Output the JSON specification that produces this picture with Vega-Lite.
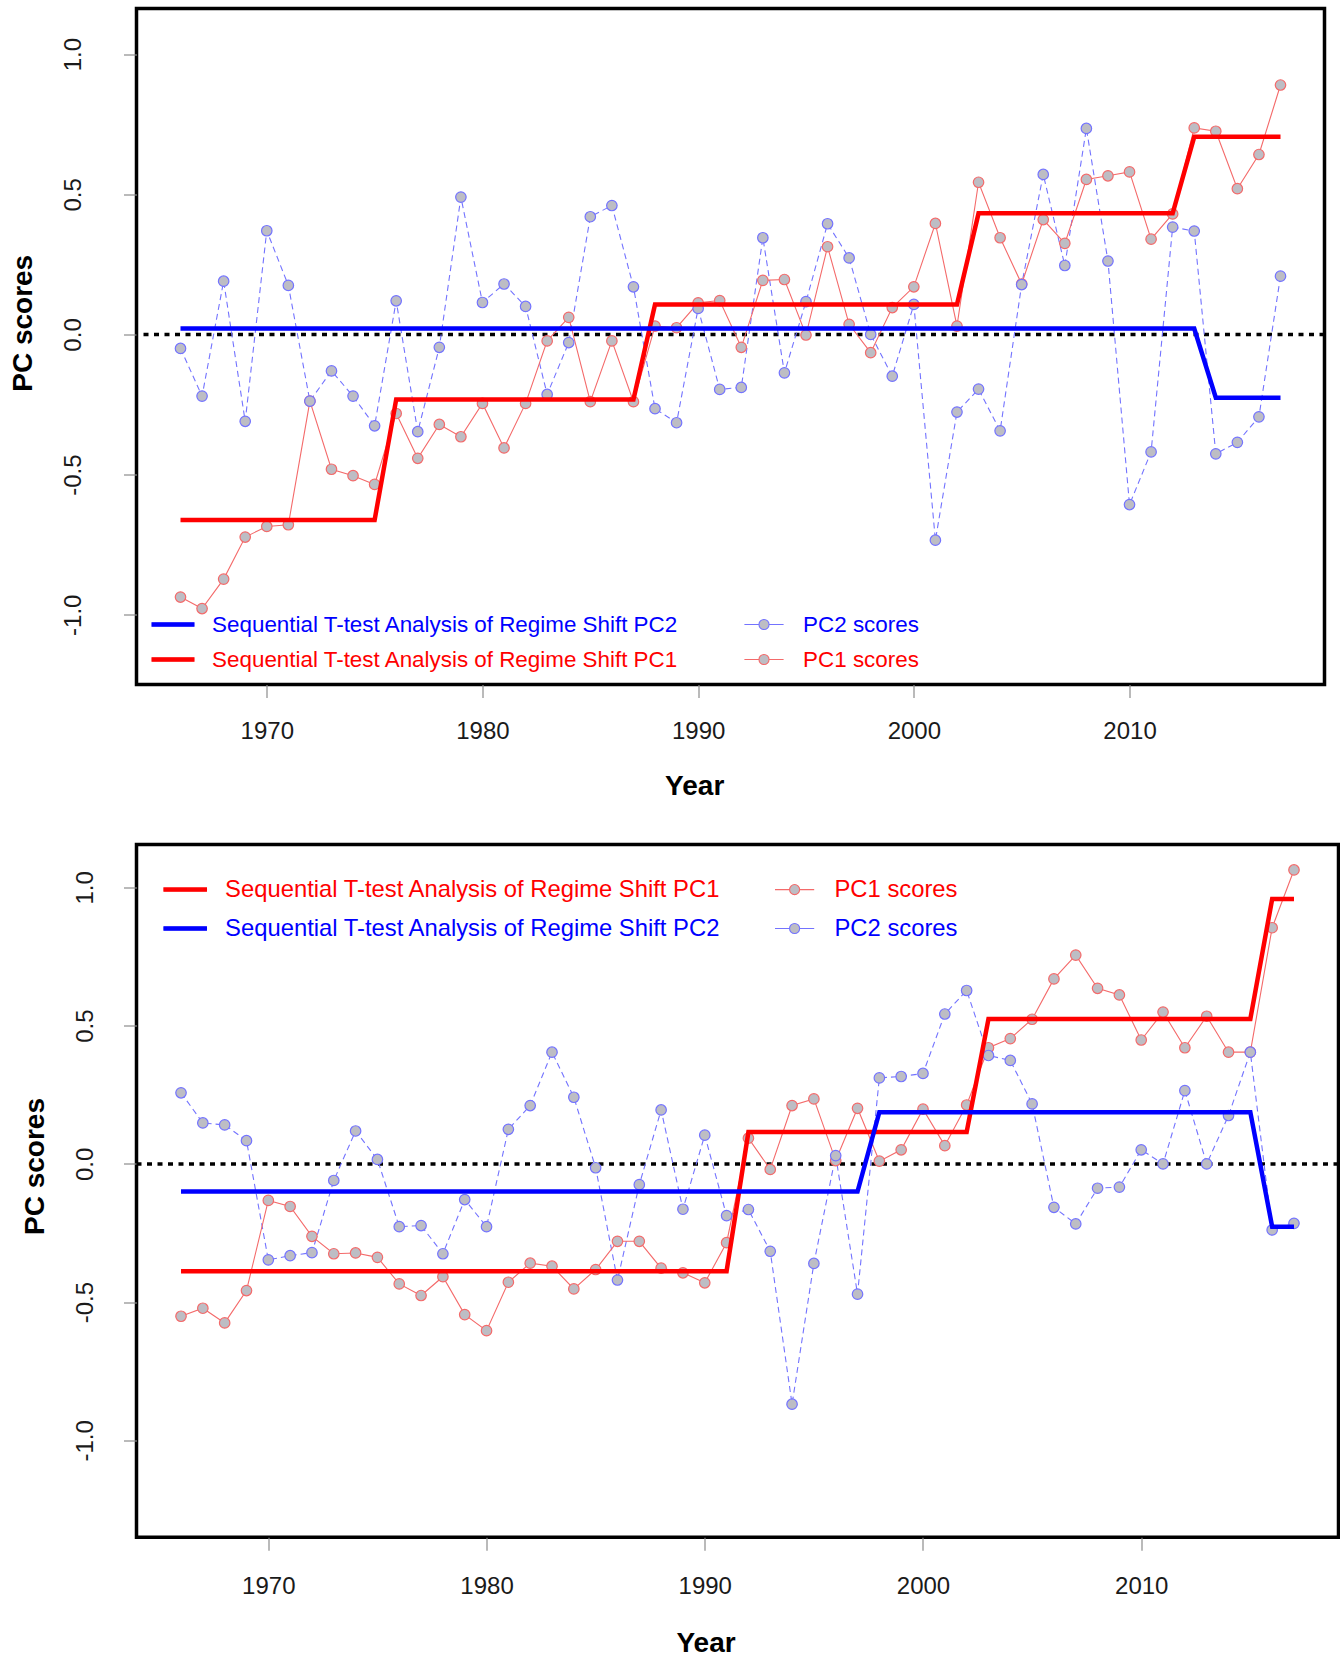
{
  "$schema": "https://vega.github.io/schema/vega-lite/v6.json",
  "padding": {"left": 6.5, "top": 6.5, "right": 0, "bottom": 0},
  "config": {
    "font": "Liberation Sans",
    "view": {"stroke": "#000000", "strokeWidth": 3.5},
    "axis": {"grid": false, "domain": false, "tickColor": "#8c8c8c", "tickWidth": 1.2, "tickSize": 13, "labelFont": "Liberation Sans", "labelFontSize": 24, "labelColor": "#1a1a1a", "titleFont": "Liberation Sans", "titleFontSize": 28, "titleFontWeight": "bold", "titleColor": "#000000", "labelFlush": false, "labelOverlap": false},
    "legend": {"labelFont": "Liberation Sans"}
  },
  "datasets": {
    "top": [
      {"year": 1966, "pc1": -0.937, "pc2": -0.05, "r1": -0.662, "r2": 0.021},
      {"year": 1967, "pc1": -0.978, "pc2": -0.22, "r1": -0.662, "r2": 0.021},
      {"year": 1968, "pc1": -0.873, "pc2": 0.19, "r1": -0.662, "r2": 0.021},
      {"year": 1969, "pc1": -0.723, "pc2": -0.31, "r1": -0.662, "r2": 0.021},
      {"year": 1970, "pc1": -0.685, "pc2": 0.37, "r1": -0.662, "r2": 0.021},
      {"year": 1971, "pc1": -0.679, "pc2": 0.175, "r1": -0.662, "r2": 0.021},
      {"year": 1972, "pc1": -0.238, "pc2": -0.238, "r1": -0.662, "r2": 0.021},
      {"year": 1973, "pc1": -0.481, "pc2": -0.13, "r1": -0.662, "r2": 0.021},
      {"year": 1974, "pc1": -0.504, "pc2": -0.22, "r1": -0.662, "r2": 0.021},
      {"year": 1975, "pc1": -0.535, "pc2": -0.326, "r1": -0.662, "r2": 0.021},
      {"year": 1976, "pc1": -0.282, "pc2": 0.12, "r1": -0.232, "r2": 0.021},
      {"year": 1977, "pc1": -0.442, "pc2": -0.347, "r1": -0.232, "r2": 0.021},
      {"year": 1978, "pc1": -0.321, "pc2": -0.046, "r1": -0.232, "r2": 0.021},
      {"year": 1979, "pc1": -0.365, "pc2": 0.49, "r1": -0.232, "r2": 0.021},
      {"year": 1980, "pc1": -0.246, "pc2": 0.114, "r1": -0.232, "r2": 0.021},
      {"year": 1981, "pc1": -0.405, "pc2": 0.18, "r1": -0.232, "r2": 0.021},
      {"year": 1982, "pc1": -0.246, "pc2": 0.10, "r1": -0.232, "r2": 0.021},
      {"year": 1983, "pc1": -0.023, "pc2": -0.214, "r1": -0.232, "r2": 0.021},
      {"year": 1984, "pc1": 0.061, "pc2": -0.029, "r1": -0.232, "r2": 0.021},
      {"year": 1985, "pc1": -0.24, "pc2": 0.42, "r1": -0.232, "r2": 0.021},
      {"year": 1986, "pc1": -0.023, "pc2": 0.46, "r1": -0.232, "r2": 0.021},
      {"year": 1987, "pc1": -0.24, "pc2": 0.17, "r1": -0.232, "r2": 0.021},
      {"year": 1988, "pc1": 0.03, "pc2": -0.265, "r1": 0.107, "r2": 0.021},
      {"year": 1989, "pc1": 0.024, "pc2": -0.315, "r1": 0.107, "r2": 0.021},
      {"year": 1990, "pc1": 0.113, "pc2": 0.093, "r1": 0.107, "r2": 0.021},
      {"year": 1991, "pc1": 0.121, "pc2": -0.196, "r1": 0.107, "r2": 0.021},
      {"year": 1992, "pc1": -0.046, "pc2": -0.189, "r1": 0.107, "r2": 0.021},
      {"year": 1993, "pc1": 0.193, "pc2": 0.345, "r1": 0.107, "r2": 0.021},
      {"year": 1994, "pc1": 0.196, "pc2": -0.137, "r1": 0.107, "r2": 0.021},
      {"year": 1995, "pc1": -0.002, "pc2": 0.117, "r1": 0.107, "r2": 0.021},
      {"year": 1996, "pc1": 0.313, "pc2": 0.395, "r1": 0.107, "r2": 0.021},
      {"year": 1997, "pc1": 0.036, "pc2": 0.273, "r1": 0.107, "r2": 0.021},
      {"year": 1998, "pc1": -0.065, "pc2": 0.0, "r1": 0.107, "r2": 0.021},
      {"year": 1999, "pc1": 0.096, "pc2": -0.149, "r1": 0.107, "r2": 0.021},
      {"year": 2000, "pc1": 0.17, "pc2": 0.107, "r1": 0.107, "r2": 0.021},
      {"year": 2001, "pc1": 0.396, "pc2": -0.734, "r1": 0.107, "r2": 0.021},
      {"year": 2002, "pc1": 0.03, "pc2": -0.277, "r1": 0.107, "r2": 0.021},
      {"year": 2003, "pc1": 0.543, "pc2": -0.195, "r1": 0.432, "r2": 0.021},
      {"year": 2004, "pc1": 0.345, "pc2": -0.344, "r1": 0.432, "r2": 0.021},
      {"year": 2005, "pc1": 0.18, "pc2": 0.178, "r1": 0.432, "r2": 0.021},
      {"year": 2006, "pc1": 0.41, "pc2": 0.571, "r1": 0.432, "r2": 0.021},
      {"year": 2007, "pc1": 0.325, "pc2": 0.246, "r1": 0.432, "r2": 0.021},
      {"year": 2008, "pc1": 0.553, "pc2": 0.735, "r1": 0.432, "r2": 0.021},
      {"year": 2009, "pc1": 0.566, "pc2": 0.262, "r1": 0.432, "r2": 0.021},
      {"year": 2010, "pc1": 0.58, "pc2": -0.607, "r1": 0.432, "r2": 0.021},
      {"year": 2011, "pc1": 0.34, "pc2": -0.419, "r1": 0.432, "r2": 0.021},
      {"year": 2012, "pc1": 0.43, "pc2": 0.383, "r1": 0.432, "r2": 0.021},
      {"year": 2013, "pc1": 0.737, "pc2": 0.369, "r1": 0.705, "r2": 0.021},
      {"year": 2014, "pc1": 0.725, "pc2": -0.426, "r1": 0.705, "r2": -0.226},
      {"year": 2015, "pc1": 0.52, "pc2": -0.385, "r1": 0.705, "r2": -0.226},
      {"year": 2016, "pc1": 0.642, "pc2": -0.294, "r1": 0.705, "r2": -0.226},
      {"year": 2017, "pc1": 0.89, "pc2": 0.208, "r1": 0.705, "r2": -0.226}
    ],
    "bottom": [
      {"year": 1966, "pc1": -0.551, "pc2": 0.257, "r1": -0.388, "r2": -0.1},
      {"year": 1967, "pc1": -0.522, "pc2": 0.148, "r1": -0.388, "r2": -0.1},
      {"year": 1968, "pc1": -0.575, "pc2": 0.141, "r1": -0.388, "r2": -0.1},
      {"year": 1969, "pc1": -0.458, "pc2": 0.084, "r1": -0.388, "r2": -0.1},
      {"year": 1970, "pc1": -0.132, "pc2": -0.347, "r1": -0.388, "r2": -0.1},
      {"year": 1971, "pc1": -0.154, "pc2": -0.332, "r1": -0.388, "r2": -0.1},
      {"year": 1972, "pc1": -0.262, "pc2": -0.321, "r1": -0.388, "r2": -0.1},
      {"year": 1973, "pc1": -0.325, "pc2": -0.06, "r1": -0.388, "r2": -0.1},
      {"year": 1974, "pc1": -0.322, "pc2": 0.119, "r1": -0.388, "r2": -0.1},
      {"year": 1975, "pc1": -0.338, "pc2": 0.016, "r1": -0.388, "r2": -0.1},
      {"year": 1976, "pc1": -0.434, "pc2": -0.227, "r1": -0.388, "r2": -0.1},
      {"year": 1977, "pc1": -0.476, "pc2": -0.223, "r1": -0.388, "r2": -0.1},
      {"year": 1978, "pc1": -0.408, "pc2": -0.325, "r1": -0.388, "r2": -0.1},
      {"year": 1979, "pc1": -0.545, "pc2": -0.129, "r1": -0.388, "r2": -0.1},
      {"year": 1980, "pc1": -0.603, "pc2": -0.227, "r1": -0.388, "r2": -0.1},
      {"year": 1981, "pc1": -0.428, "pc2": 0.125, "r1": -0.388, "r2": -0.1},
      {"year": 1982, "pc1": -0.359, "pc2": 0.211, "r1": -0.388, "r2": -0.1},
      {"year": 1983, "pc1": -0.37, "pc2": 0.404, "r1": -0.388, "r2": -0.1},
      {"year": 1984, "pc1": -0.452, "pc2": 0.241, "r1": -0.388, "r2": -0.1},
      {"year": 1985, "pc1": -0.382, "pc2": -0.014, "r1": -0.388, "r2": -0.1},
      {"year": 1986, "pc1": -0.28, "pc2": -0.42, "r1": -0.388, "r2": -0.1},
      {"year": 1987, "pc1": -0.28, "pc2": -0.075, "r1": -0.388, "r2": -0.1},
      {"year": 1988, "pc1": -0.377, "pc2": 0.195, "r1": -0.388, "r2": -0.1},
      {"year": 1989, "pc1": -0.394, "pc2": -0.164, "r1": -0.388, "r2": -0.1},
      {"year": 1990, "pc1": -0.43, "pc2": 0.104, "r1": -0.388, "r2": -0.1},
      {"year": 1991, "pc1": -0.285, "pc2": -0.187, "r1": -0.388, "r2": -0.1},
      {"year": 1992, "pc1": 0.093, "pc2": -0.165, "r1": 0.115, "r2": -0.1},
      {"year": 1993, "pc1": -0.02, "pc2": -0.316, "r1": 0.115, "r2": -0.1},
      {"year": 1994, "pc1": 0.211, "pc2": -0.869, "r1": 0.115, "r2": -0.1},
      {"year": 1995, "pc1": 0.235, "pc2": -0.36, "r1": 0.115, "r2": -0.1},
      {"year": 1996, "pc1": 0.012, "pc2": 0.03, "r1": 0.115, "r2": -0.1},
      {"year": 1997, "pc1": 0.201, "pc2": -0.471, "r1": 0.115, "r2": -0.1},
      {"year": 1998, "pc1": 0.01, "pc2": 0.311, "r1": 0.115, "r2": 0.187},
      {"year": 1999, "pc1": 0.051, "pc2": 0.316, "r1": 0.115, "r2": 0.187},
      {"year": 2000, "pc1": 0.198, "pc2": 0.327, "r1": 0.115, "r2": 0.187},
      {"year": 2001, "pc1": 0.066, "pc2": 0.542, "r1": 0.115, "r2": 0.187},
      {"year": 2002, "pc1": 0.213, "pc2": 0.627, "r1": 0.115, "r2": 0.187},
      {"year": 2003, "pc1": 0.42, "pc2": 0.392, "r1": 0.524, "r2": 0.187},
      {"year": 2004, "pc1": 0.453, "pc2": 0.374, "r1": 0.524, "r2": 0.187},
      {"year": 2005, "pc1": 0.523, "pc2": 0.217, "r1": 0.524, "r2": 0.187},
      {"year": 2006, "pc1": 0.669, "pc2": -0.157, "r1": 0.524, "r2": 0.187},
      {"year": 2007, "pc1": 0.755, "pc2": -0.217, "r1": 0.524, "r2": 0.187},
      {"year": 2008, "pc1": 0.635, "pc2": -0.088, "r1": 0.524, "r2": 0.187},
      {"year": 2009, "pc1": 0.611, "pc2": -0.084, "r1": 0.524, "r2": 0.187},
      {"year": 2010, "pc1": 0.448, "pc2": 0.051, "r1": 0.524, "r2": 0.187},
      {"year": 2011, "pc1": 0.549, "pc2": 0.0, "r1": 0.524, "r2": 0.187},
      {"year": 2012, "pc1": 0.42, "pc2": 0.265, "r1": 0.524, "r2": 0.187},
      {"year": 2013, "pc1": 0.534, "pc2": 0.0, "r1": 0.524, "r2": 0.187},
      {"year": 2014, "pc1": 0.404, "pc2": 0.175, "r1": 0.524, "r2": 0.187},
      {"year": 2015, "pc1": 0.404, "pc2": 0.404, "r1": 0.524, "r2": 0.187},
      {"year": 2016, "pc1": 0.854, "pc2": -0.239, "r1": 0.958, "r2": -0.227},
      {"year": 2017, "pc1": 1.063, "pc2": -0.215, "r1": 0.958, "r2": -0.227}
    ]
  },
  "spacing": 40,
  "resolve": {
    "scale": {"x": "independent", "y": "independent", "color": "independent"},
    "axis": {"x": "independent", "y": "independent"},
    "legend": {"color": "independent"}
  },
  "vconcat": [
    {
      "width": 1188,
      "height": 676,
      "data": {"name": "top"},
      "transform": [{"fold": ["pc1", "pc2", "r1", "r2"], "as": ["series", "value"]}],
      "layer": [
        {
          "data": {"values": [{"z": 0}]},
          "mark": {"type": "rule", "color": "#000000", "strokeWidth": 3.5, "strokeDash": [5, 5.5]},
          "encoding": {"y": {"field": "z", "type": "quantitative", "scale": {"domain": [-1.249, 1.163], "nice": false, "zero": false}}}
        },
        {
          "transform": [{"filter": "datum.series == 'pc2'"}],
          "mark": {"type": "line", "strokeWidth": 1.1, "strokeDash": [6, 4]},
          "encoding": {
            "x": {"field": "year", "type": "quantitative", "scale": {"domain": [1963.96, 2019.04], "nice": false, "zero": false},
              "axis": {"values": [1970, 1980, 1990, 2000, 2010], "format": "d", "labelPadding": 22, "title": "Year", "titleX": 557.7, "titleY": 101.5, "titleBaseline": "middle", "titleAlign": "center"}},
            "y": {"field": "value", "type": "quantitative", "scale": {"domain": [-1.249, 1.163], "nice": false, "zero": false},
              "axis": {"values": [-1, -0.5, 0, 0.5, 1], "labelExpr": "datum.value < 0 ? '-' + format(-datum.value, '.1f') : format(datum.value, '.1f')", "labelAngle": -90, "labelAlign": "center", "labelBaseline": "bottom", "labelPadding": 38.5, "title": "PC scores", "titleX": -113.4, "titleY": 314.3, "titleBaseline": "middle", "titleAlign": "center", "titleAngle": -90}},
            "color": {"field": "series", "type": "nominal", "scale": {"domain": ["r2", "r1", "pc2", "pc1"], "range": ["#0000ff", "#ff0000", "#7373ff", "#f46a6a"]}}
          }
        },
        {
          "transform": [{"filter": "datum.series == 'pc1'"}],
          "mark": {"type": "line", "strokeWidth": 1.1},
          "encoding": {
            "x": {"field": "year", "type": "quantitative"},
            "y": {"field": "value", "type": "quantitative"},
            "color": {"field": "series", "type": "nominal", "scale": {"domain": ["r2", "r1", "pc2", "pc1"], "range": ["#0000ff", "#ff0000", "#7373ff", "#f46a6a"]}}
          }
        },
        {
          "transform": [{"filter": "datum.series == 'pc1' || datum.series == 'pc2'"}],
          "mark": {"type": "point", "filled": false, "fill": "#bdbdc4", "fillOpacity": 1, "opacity": 1, "size": 110, "strokeWidth": 1.2},
          "encoding": {
            "x": {"field": "year", "type": "quantitative"},
            "y": {"field": "value", "type": "quantitative"},
            "color": {"field": "series", "type": "nominal", "scale": {"domain": ["r2", "r1", "pc2", "pc1"], "range": ["#0000ff", "#ff0000", "#7373ff", "#f46a6a"]}}
          }
        },
        {
          "transform": [{"filter": "datum.series == 'r1' || datum.series == 'r2'"}],
          "mark": {"type": "line", "strokeWidth": 4.5},
          "encoding": {
            "x": {"field": "year", "type": "quantitative"},
            "y": {"field": "value", "type": "quantitative"},
            "detail": {"field": "series"},
            "color": {"field": "series", "type": "nominal", "scale": {"domain": ["r2", "r1", "pc2", "pc1"], "range": ["#0000ff", "#ff0000", "#7373ff", "#f46a6a"]},
              "legend": {
                "orient": "none", "legendX": 21.5, "legendY": 600.7, "title": null, "columns": 2, "columnPadding": 63, "rowPadding": 8.3, "padding": 0,
                "symbolSize": 784, "symbolStrokeWidth": 1.1, "labelFontSize": 22.4, "labelOffset": 24.1, "labelLimit": 1000, "gridAlign": "each",
                "labelExpr": "datum.value == 'r1' ? 'Sequential T-test Analysis of Regime Shift PC1' : datum.value == 'r2' ? 'Sequential T-test Analysis of Regime Shift PC2' : datum.value == 'pc1' ? 'PC1 scores' : 'PC2 scores'",
                "encode": {
                  "labels": {"update": {"fill": {"signal": "(datum.value == 'r1' || datum.value == 'pc1') ? '#ff0000' : '#0000ff'"}}},
                  "symbols": {"update": {
                    "shape": {"signal": "(datum.value == 'pc1' || datum.value == 'pc2') ? 'M-1.4,0H-0.36M0.36,0H1.4M0.36,0A0.36,0.36,0,1,1,-0.36,0A0.36,0.36,0,1,1,0.36,0' : 'M-1.5,-0.12H1.5V0.12H-1.5Z'"},
                    "size": {"value": 784},
                    "strokeWidth": {"value": 1.1},
                    "stroke": {"signal": "datum.value == 'r1' ? '#ff0000' : datum.value == 'r2' ? '#0000ff' : datum.value == 'pc1' ? '#f46a6a' : '#7373ff'"},
                    "fill": {"signal": "datum.value == 'r1' ? '#ff0000' : datum.value == 'r2' ? '#0000ff' : '#bdbdc4'"},
                    "opacity": {"value": 1}
                  }}
                }
              }}
          }
        }
      ]
    },
    {
      "width": 1202,
      "height": 692.7,
      "data": {"name": "bottom"},
      "transform": [{"fold": ["pc1", "pc2", "r1", "r2"], "as": ["series", "value"]}],
      "layer": [
        {
          "data": {"values": [{"z": 0}]},
          "mark": {"type": "rule", "color": "#000000", "strokeWidth": 3.5, "strokeDash": [5, 5.5]},
          "encoding": {"y": {"field": "z", "type": "quantitative", "scale": {"domain": [-1.35, 1.155], "nice": false, "zero": false}}}
        },
        {
          "transform": [{"filter": "datum.series == 'pc2'"}],
          "mark": {"type": "line", "strokeWidth": 1.1, "strokeDash": [6, 4]},
          "encoding": {
            "x": {"field": "year", "type": "quantitative", "scale": {"domain": [1963.96, 2019.04], "nice": false, "zero": false},
              "axis": {"values": [1970, 1980, 1990, 2000, 2010], "format": "d", "labelPadding": 24, "title": "Year", "titleX": 569, "titleY": 105.8, "titleBaseline": "middle", "titleAlign": "center"}},
            "y": {"field": "value", "type": "quantitative", "scale": {"domain": [-1.35, 1.155], "nice": false, "zero": false},
              "axis": {"values": [-1, -0.5, 0, 0.5, 1], "labelExpr": "datum.value < 0 ? '-' + format(-datum.value, '.1f') : format(datum.value, '.1f')", "labelAngle": -90, "labelAlign": "center", "labelBaseline": "bottom", "labelPadding": 26, "title": "PC scores", "titleX": -101.2, "titleY": 321.5, "titleBaseline": "middle", "titleAlign": "center", "titleAngle": -90}},
            "color": {"field": "series", "type": "nominal", "scale": {"domain": ["r1", "r2", "pc1", "pc2"], "range": ["#ff0000", "#0000ff", "#f46a6a", "#7373ff"]}}
          }
        },
        {
          "transform": [{"filter": "datum.series == 'pc1'"}],
          "mark": {"type": "line", "strokeWidth": 1.1},
          "encoding": {
            "x": {"field": "year", "type": "quantitative"},
            "y": {"field": "value", "type": "quantitative"},
            "color": {"field": "series", "type": "nominal", "scale": {"domain": ["r1", "r2", "pc1", "pc2"], "range": ["#ff0000", "#0000ff", "#f46a6a", "#7373ff"]}}
          }
        },
        {
          "transform": [{"filter": "datum.series == 'pc1' || datum.series == 'pc2'"}],
          "mark": {"type": "point", "filled": false, "fill": "#bdbdc4", "fillOpacity": 1, "opacity": 1, "size": 110, "strokeWidth": 1.2},
          "encoding": {
            "x": {"field": "year", "type": "quantitative"},
            "y": {"field": "value", "type": "quantitative"},
            "color": {"field": "series", "type": "nominal", "scale": {"domain": ["r1", "r2", "pc1", "pc2"], "range": ["#ff0000", "#0000ff", "#f46a6a", "#7373ff"]}}
          }
        },
        {
          "transform": [{"filter": "datum.series == 'r1' || datum.series == 'r2'"}],
          "mark": {"type": "line", "strokeWidth": 4.5},
          "encoding": {
            "x": {"field": "year", "type": "quantitative"},
            "y": {"field": "value", "type": "quantitative"},
            "detail": {"field": "series"},
            "color": {"field": "series", "type": "nominal", "scale": {"domain": ["r1", "r2", "pc1", "pc2"], "range": ["#ff0000", "#0000ff", "#f46a6a", "#7373ff"]},
              "legend": {
                "orient": "none", "legendX": 33.7, "legendY": 30, "title": null, "columns": 2, "columnPadding": 51.4, "rowPadding": 12, "padding": 0,
                "symbolSize": 784, "symbolStrokeWidth": 1.1, "labelFontSize": 23.8, "labelOffset": 24.9, "labelLimit": 1000, "gridAlign": "each",
                "labelExpr": "datum.value == 'r1' ? 'Sequential T-test Analysis of Regime Shift PC1' : datum.value == 'r2' ? 'Sequential T-test Analysis of Regime Shift PC2' : datum.value == 'pc1' ? 'PC1 scores' : 'PC2 scores'",
                "encode": {
                  "labels": {"update": {"fill": {"signal": "(datum.value == 'r1' || datum.value == 'pc1') ? '#ff0000' : '#0000ff'"}}},
                  "symbols": {"update": {
                    "shape": {"signal": "(datum.value == 'pc1' || datum.value == 'pc2') ? 'M-1.4,0H-0.36M0.36,0H1.4M0.36,0A0.36,0.36,0,1,1,-0.36,0A0.36,0.36,0,1,1,0.36,0' : 'M-1.52,-0.12H1.52V0.12H-1.52Z'"},
                    "size": {"value": 784},
                    "strokeWidth": {"value": 1.1},
                    "stroke": {"signal": "datum.value == 'r1' ? '#ff0000' : datum.value == 'r2' ? '#0000ff' : datum.value == 'pc1' ? '#f46a6a' : '#7373ff'"},
                    "fill": {"signal": "datum.value == 'r1' ? '#ff0000' : datum.value == 'r2' ? '#0000ff' : '#bdbdc4'"},
                    "opacity": {"value": 1}
                  }}
                }
              }}
          }
        }
      ]
    }
  ]
}
